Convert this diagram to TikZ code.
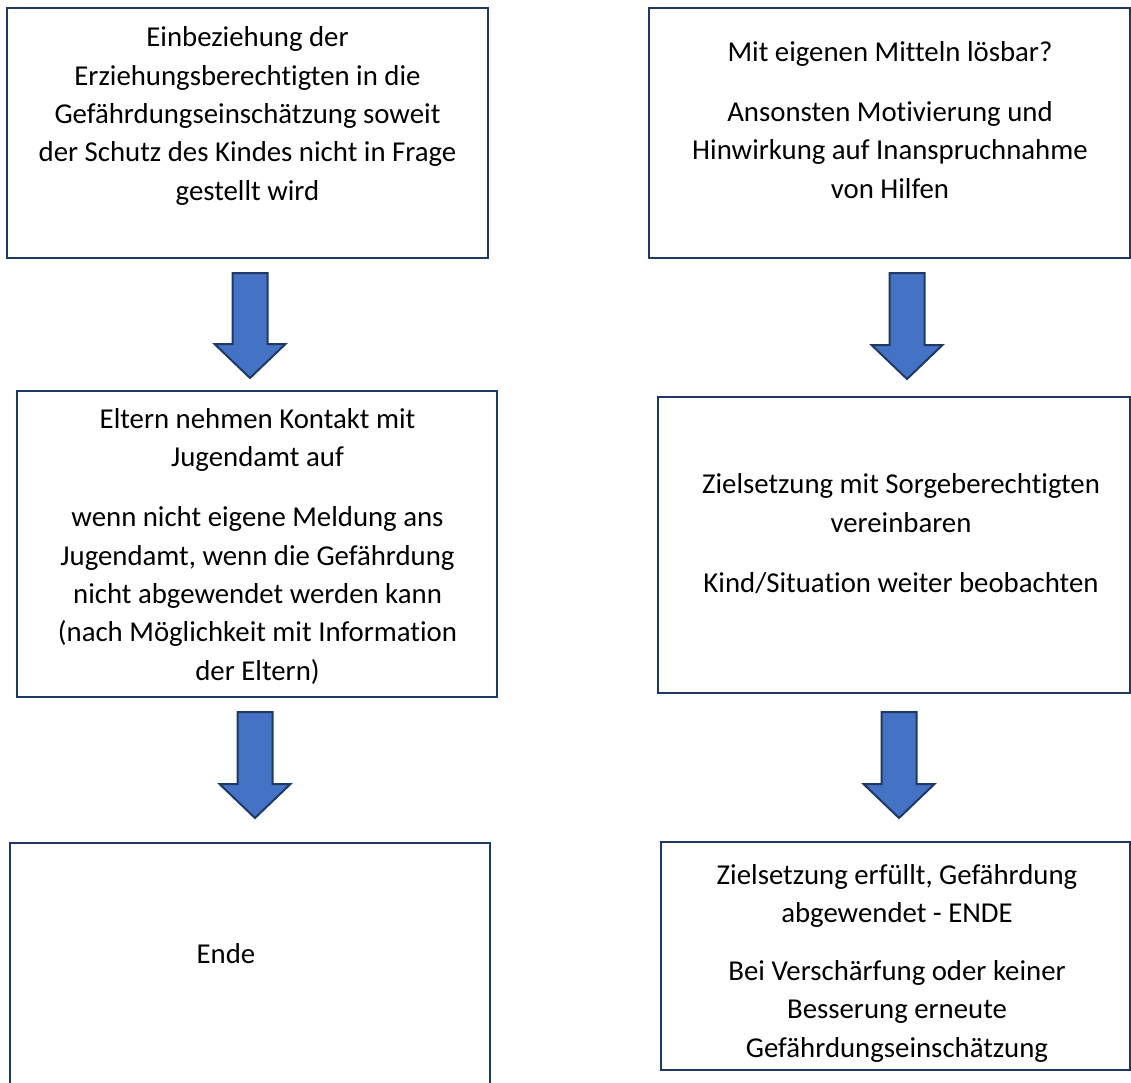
\documentclass[tikz,border=0pt]{standalone}
\usepackage{fontspec}
\setmainfont[Ligatures=NoCommon]{Carlito}
\usetikzlibrary{calc}
\definecolor{navy}{RGB}{31,56,100}
\definecolor{arrowblue}{RGB}{68,114,196}

\begin{document}
\begin{tikzpicture}[x=1pt, y=-1pt,
    box/.style={rectangle, draw=navy, line width=2pt, outer sep=0pt, inner sep=0pt},
    txt/.style={align=center, anchor=base, inner sep=0pt, font=\fontsize{28.8}{38.3}\selectfont},
    blockarrow/.style={draw=navy, fill=arrowblue, line width=2pt, line join=miter,
        to path={let \p1=(\tikztostart), \p2=(\tikztotarget) in
            (\x1-17.5pt,\y1) -- (\x1+17.5pt,\y1) -- (\x1+17.5pt,\y2+34pt) -- (\x1+35.5pt,\y2+34pt)
            -- (\x1,\y2) -- (\x1-35.5pt,\y2+34pt) -- (\x1-17.5pt,\y2+34pt) -- cycle}}]
    \useasboundingbox (0,0) rectangle (1131,1082);
    % Place boxes
    \node [box, minimum width=481, minimum height=250] (lt) at (247.5,133) {};
    \node [box, minimum width=481, minimum height=250] (rt) at (889.5,133) {};
    \node [box, minimum width=480, minimum height=306] (lm) at (257,544) {};
    \node [box, minimum width=472, minimum height=296] (rm) at (894,545) {};
    \node [box, minimum width=480, minimum height=257] (lb) at (250,971.5) {};
    \node [box, minimum width=469, minimum height=228] (rb) at (895.5,956) {};
    % Texts (placed at the baseline of their last line)
    \node [txt] (ltx) at (247.5,200) {Einbeziehung der\\Erziehungsberechtigten in die\\Gefährdungseinschätzung soweit\\der Schutz des Kindes nicht in Frage\\gestellt wird};
    \node [txt] (rtx) at (890,198) {Mit eigenen Mitteln lösbar?\\[21.7pt]Ansonsten Motivierung und\\Hinwirkung auf Inanspruchnahme\\von Hilfen};
    \node [txt] (lmx) at (257.5,680) {Eltern nehmen Kontakt mit\\Jugendamt auf\\[21.7pt]wenn nicht eigene Meldung ans\\Jugendamt, wenn die Gefährdung\\nicht abgewendet werden kann\\(nach Möglichkeit mit Information\\der Eltern)};
    \node [txt] (rmx) at (901,592) {Zielsetzung mit Sorgeberechtigten\\vereinbaren\\[21.7pt]Kind/Situation weiter beobachten};
    \node [txt] (lbx) at (226,963) {Ende};
    \node [txt] (rbx) at (897,1057) {Zielsetzung erfüllt, Gefährdung\\abgewendet - ENDE\\[19.7pt]Bei Verschärfung oder keiner\\Besserung erneute\\Gefährdungseinschätzung};
    % Block arrows
    \path [blockarrow] ([shift={(2.5,15)}]lt.south) to ([shift={(0,-13)}]lm.north);
    \path [blockarrow] ([shift={(-2,15)}]lm.south) to ([shift={(0,-25)}]lb.north);
    \path [blockarrow] ([shift={(17.5,15)}]rt.south) to ([shift={(0,-18)}]rm.north);
    \path [blockarrow] ([shift={(5,19)}]rm.south) to ([shift={(0,-24)}]rb.north);
\end{tikzpicture}
\end{document}
